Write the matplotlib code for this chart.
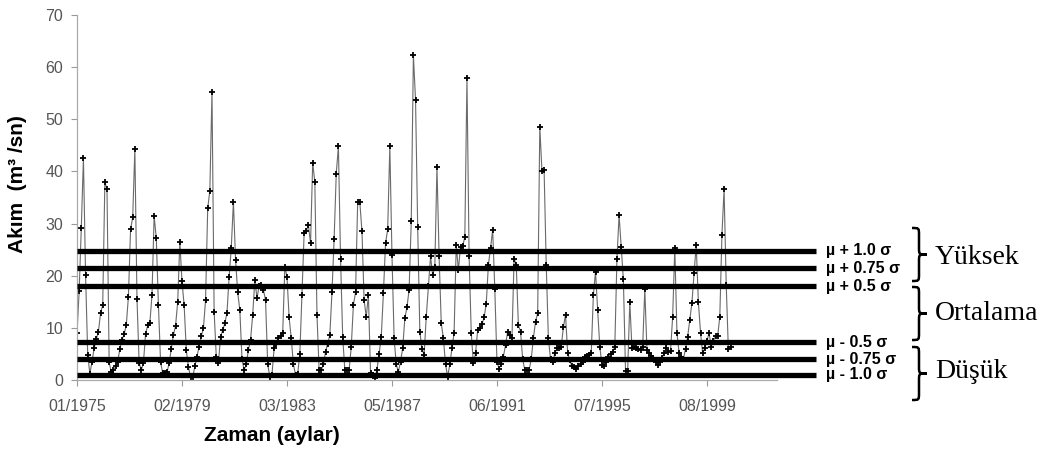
import matplotlib
matplotlib.use('Agg')
import numpy as np
import matplotlib.pyplot as plt
import matplotlib.transforms as mtransforms
from matplotlib.path import Path
from matplotlib.patches import PathPatch

# Monthly flow (m3/sn), one row per year
flow = [
    9.0, 17.0, 29.1, 42.5, 20.1, 4.8, 1.2, 3.5, 6.1, 7.8, 9.3, 12.8,
    14.4, 37.9, 36.6, 3.4, 1.5, 1.9, 2.6, 3.5, 6.0, 7.7, 8.8, 10.5,
    16.0, 28.9, 31.2, 44.3, 15.5, 3.3, 1.9, 3.3, 8.8, 10.5, 10.9, 16.3,
    31.5, 27.2, 14.4, 3.5, 1.3, 1.3, 1.5, 3.2, 6.0, 8.6, 10.4, 15.0,
    26.5, 18.9, 14.4, 5.8, 2.5, 0.6, 0.6, 2.6, 4.5, 6.4, 8.4, 9.9,
    15.3, 32.9, 36.3, 55.3, 13.1, 4.5, 3.2, 8.3, 9.5, 10.9, 12.9, 19.8,
    25.3, 34.2, 23.1, 16.8, 13.4, 4.0, 1.9, 3.0, 5.8, 7.7, 12.5, 19.2,
    15.7, 18.0, 18.2, 17.3, 15.3, 3.0, 0.6, 1.0, 6.1, 7.0, 8.0, 8.5,
    9.0, 21.7, 19.8, 12.0, 8.0, 3.0, 1.0, 1.2, 5.0, 16.3, 28.1, 28.5,
    29.7, 26.2, 41.7, 38.0, 12.5, 1.9, 1.9, 3.0, 5.4, 7.0, 8.6, 16.8,
    27.0, 39.6, 44.8, 23.3, 8.3, 1.9, 1.9, 1.9, 6.4, 14.4, 16.8, 34.2,
    34.1, 28.5, 15.3, 12.1, 16.3, 1.3, 1.0, 0.3, 2.0, 5.0, 8.3, 16.6,
    26.2, 28.9, 44.8, 24.0, 8.0, 3.0, 1.6, 3.5, 6.1, 11.8, 14.0, 17.3,
    30.4, 62.3, 53.7, 29.4, 9.3, 6.0, 4.8, 12.1, 18.0, 23.7, 20.1, 21.7,
    40.9, 23.7, 10.9, 8.0, 3.0, 0.6, 3.0, 6.1, 9.1, 25.9, 21.1, 25.6,
    25.7, 27.4, 57.9, 23.7, 9.0, 3.2, 5.1, 9.6, 9.9, 10.7, 12.0, 14.6,
    22.1, 25.3, 28.8, 17.4, 3.5, 2.2, 3.0, 4.5, 6.7, 9.3, 8.6, 8.0,
    23.3, 22.1, 10.5, 9.3, 4.0, 1.9, 1.9, 1.9, 4.0, 8.0, 11.2, 12.8,
    48.6, 40.0, 40.3, 22.1, 8.0, 4.0, 3.5, 5.1, 6.1, 6.2, 6.4, 10.1,
    12.5, 5.2, 3.8, 2.6, 2.4, 2.2, 2.6, 3.0, 3.5, 4.5, 4.6, 4.8,
    5.1, 16.3, 20.8, 13.4, 6.4, 2.9, 2.6, 3.5, 4.5, 5.0, 5.4, 6.4,
    23.3, 31.6, 25.6, 19.3, 1.8, 1.8, 15.0, 6.1, 6.4, 6.1, 6.0, 5.8,
    6.4, 17.4, 5.8, 5.1, 4.6, 4.2, 3.5, 2.9, 3.5, 4.2, 5.1, 6.1,
    5.4, 5.6, 12.1, 25.3, 9.1, 5.2, 4.5, 4.0, 6.0, 8.3, 11.5, 14.8,
    20.5, 25.9, 15.0, 9.1, 5.1, 6.1, 7.5, 9.0, 6.4, 7.5, 8.4, 8.4,
    12.1, 27.8, 36.6, 18.2, 5.9, 6.4,
]

tick_labels = ['01/1975', '02/1979', '03/1983', '05/1987', '06/1991', '07/1995', '08/1999']
levels = [24.8, 21.4, 18.0, 7.2, 4.0, 1.0]
level_labels = ['µ + 1.0 σ', 'µ + 0.75 σ', 'µ + 0.5 σ', 'µ - 0.5 σ', 'µ - 0.75 σ', 'µ - 1.0 σ']
classes = ['Yüksek', 'Ortalama', 'Düşük']

plt.rcParams['font.family'] = ['Liberation Sans', 'DejaVu Sans']

W, H = 1046, 453
fig = plt.figure(figsize=(W / 100, H / 100), dpi=100)
ax = fig.add_axes([77 / W, 1 - 380 / H, 700 / W, 365 / H])

# pixel coords (y down) -> figure
px = mtransforms.Affine2D().scale(1 / W, -1 / H).translate(0, 1) + fig.transFigure

months = np.arange(len(flow))
ax.plot(months, flow, color='#6a6a6a', lw=0.8, marker='+', ms=4,
        mec='black', mew=1.3, zorder=2)

# threshold lines run past the axis end
for lev, lab in zip(levels, level_labels):
    ax.plot([0, 345], [lev, lev], color='black', lw=3.8, solid_capstyle='butt',
            clip_on=False, zorder=3)
    ax.text(349.5, lev, lab, fontsize=11.5, fontweight='bold', va='center',
            ha='left', clip_on=False)


def brace(y0, y1, x_end=912, x_bar=919, x_tip=927, r=7):
    ym = (y0 + y1) / 2
    verts = [(x_end, y0),
             (x_bar, y0), (x_bar, y0), (x_bar, y0 + r),
             (x_bar, ym - r),
             (x_bar, ym), (x_bar, ym), (x_tip, ym),
             (x_bar, ym), (x_bar, ym), (x_bar, ym + r),
             (x_bar, y1 - r),
             (x_bar, y1), (x_bar, y1), (x_end, y1)]
    codes = [Path.MOVETO] + [Path.CURVE4] * 3 + [Path.LINETO] + [Path.CURVE4] * 6 \
        + [Path.LINETO] + [Path.CURVE4] * 3
    fig.add_artist(PathPatch(Path(verts, codes), transform=px, fill=False,
                             lw=1.8, color='black'))


for (y0, y1), name, yc in zip([(228, 281), (287, 340), (347, 400)], classes, [257, 313, 372]):
    brace(y0, y1)
    fig.text(935, yc, name, transform=px, fontsize=20, va='center', ha='left',
             family=['Liberation Serif', 'DejaVu Serif'])

ax.set_xlim(0, 326.7)
ax.set_ylim(0, 70)
ax.set_xticks(np.arange(len(tick_labels)) * 49)
ax.set_xticklabels(tick_labels)
ax.set_yticks(np.arange(0, 71, 10))
ax.tick_params(axis='both', labelsize=11.5, labelcolor='#555555', color='#999999',
               length=4, width=0.8)
ax.tick_params(axis='x', pad=10)
ax.tick_params(axis='y', pad=6)

for s in ['top', 'right']:
    ax.spines[s].set_visible(False)
for s in ['left', 'bottom']:
    ax.spines[s].set_color('#aaaaaa')
    ax.spines[s].set_linewidth(0.9)

ax.set_ylabel('Akım  (m³ /sn)', fontsize=15, fontweight='bold')
ax.yaxis.set_label_coords(-0.072, 0.537)
ax.set_xlabel('Zaman (aylar)', fontsize=15, fontweight='bold')
ax.xaxis.set_label_coords(0.279, -0.125)

fig.savefig('out.png', dpi=100)
